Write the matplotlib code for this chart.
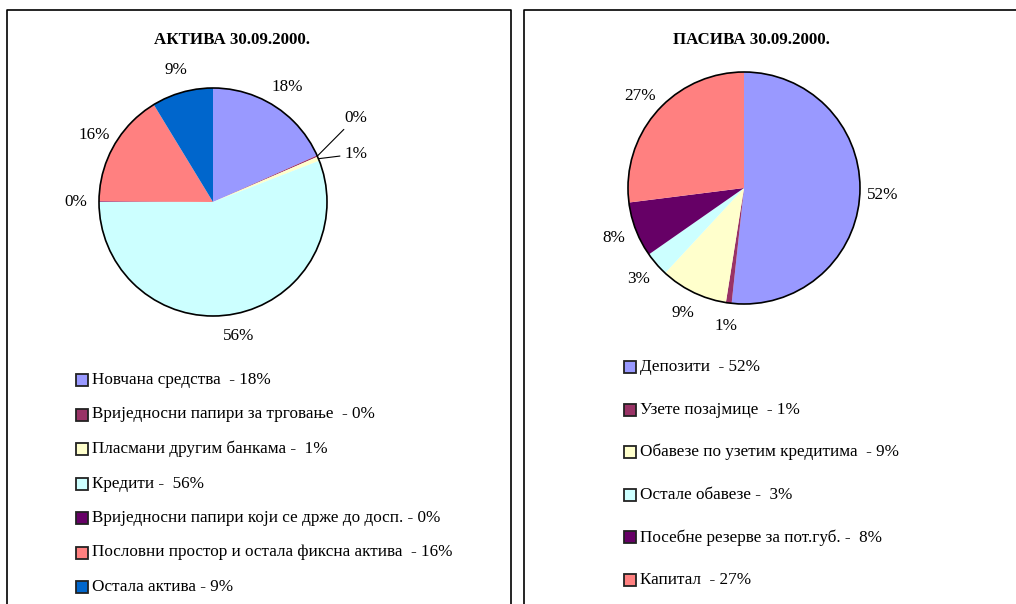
import matplotlib
matplotlib.use("Agg")
import numpy as np
from matplotlib import pyplot as plt
from matplotlib.patches import Rectangle, Circle
from matplotlib.lines import Line2D

plt.rcParams['font.family'] = ['Liberation Serif', 'DejaVu Serif']

# Aktiva (left pie)
aktiva_title = "АКТИВА 30.09.2000."
aktiva_names = ["Новчана средства  - 18%",
                "Вриједносни папири за трговање  - 0%",
                "Пласмани другим банкама -  1%",
                "Кредити -  56%",
                "Вриједносни папири који се држе до досп. - 0%",
                "Пословни простор и остала фиксна актива  - 16%",
                "Остала актива - 9%"]
aktiva_values = [18.3, 0.2, 0.6, 55.9, 0.1, 16.2, 8.7]
aktiva_colors = ["#9999FF", "#993366", "#FFFFCC", "#CCFFFF", "#660066", "#FF8080", "#0066CC"]

# Pasiva (right pie)
pasiva_title = "ПАСИВА 30.09.2000."
pasiva_names = ["Депозити  - 52%",
                "Узете позајмице  - 1%",
                "Обавезе по узетим кредитима  - 9%",
                "Остале обавезе -  3%",
                "Посебне резерве за пот.губ. -  8%",
                "Капитал  - 27%"]
pasiva_values = [51.7, 0.8, 9.4, 3.4, 7.7, 27.0]
pasiva_colors = ["#9999FF", "#993366", "#FFFFCC", "#CCFFFF", "#660066", "#FF8080"]

W, H = 1016, 604
FS = 12.3
fig = plt.figure(figsize=(W / 100, H / 100), dpi=100)


def px_axes(cx, cy, r):
    # axes in pixel units, pie of radius 1 and some margin
    m = 1.1 * r
    ax = fig.add_axes([(cx - m) / W, (H - cy - m) / H, 2 * m / W, 2 * m / H])
    return ax


def draw_pie(ax, values, colors, leader=None):
    wedges, _ = ax.pie(values, colors=colors, startangle=90, counterclock=False,
                       radius=1, wedgeprops=dict(linewidth=0))
    ax.add_patch(Circle((0, 0), 1, fill=False, ec="black", lw=1.2))
    ax.set_xlim(-1.1, 1.1)
    ax.set_ylim(-1.1, 1.1)
    ax.axis("off")
    for i, (w, v) in enumerate(zip(wedges, values)):
        txt = f"{round(v)}%"
        mid = np.deg2rad((w.theta1 + w.theta2) / 2)
        if leader and i in leader:
            tx, ty = leader[i]
            ex, ey = np.cos(mid), np.sin(mid)
            ax.annotate(txt, xy=(ex, ey), xytext=(tx, ty), ha="left", va="center",
                        fontsize=FS, annotation_clip=False,
                        arrowprops=dict(arrowstyle="-", lw=0.8, color="black",
                                        shrinkA=1, shrinkB=0))
        else:
            ax.text(1.2 * np.cos(mid), 1.2 * np.sin(mid), txt, ha="center", va="center",
                    fontsize=FS)
    return wedges


def draw_legend(names, colors, x, y0, pitch):
    for i, (n, c) in enumerate(zip(names, colors)):
        y = y0 + i * pitch
        fig.add_artist(Rectangle((x / W, (H - y - 6) / H), 12 / W, 12 / H,
                                 transform=fig.transFigure, fc=c, ec="#222222", lw=1.3))
        fig.text((x + 16) / W, (H - y) / H, n, ha="left", va="center", fontsize=FS)


# panel frames
for x0, x1 in [(7, 511), (524, 1030)]:
    fig.add_artist(Line2D([x0 / W, x0 / W, x1 / W, x1 / W], [-0.1, (H - 9.5) / H, (H - 9.5) / H, -0.1],
                          transform=fig.transFigure, color="black", lw=1.2))

ax1 = px_axes(213, 202, 114)
draw_pie(ax1, aktiva_values, aktiva_colors, leader={1: (1.15, 0.74), 2: (1.15, 0.42)})
fig.text(232 / W, (H - 40) / H, aktiva_title, ha="center", va="center",
         fontsize=12.2, fontweight="bold")
draw_legend(aktiva_names, aktiva_colors, 76, 380, 34.5)

ax2 = px_axes(744, 188, 116)
draw_pie(ax2, pasiva_values, pasiva_colors)
fig.text(751 / W, (H - 40) / H, pasiva_title, ha="center", va="center",
         fontsize=12.2, fontweight="bold")
draw_legend(pasiva_names, pasiva_colors, 624, 367, 42.6)

fig.savefig("out.png", dpi=100, facecolor="white")
